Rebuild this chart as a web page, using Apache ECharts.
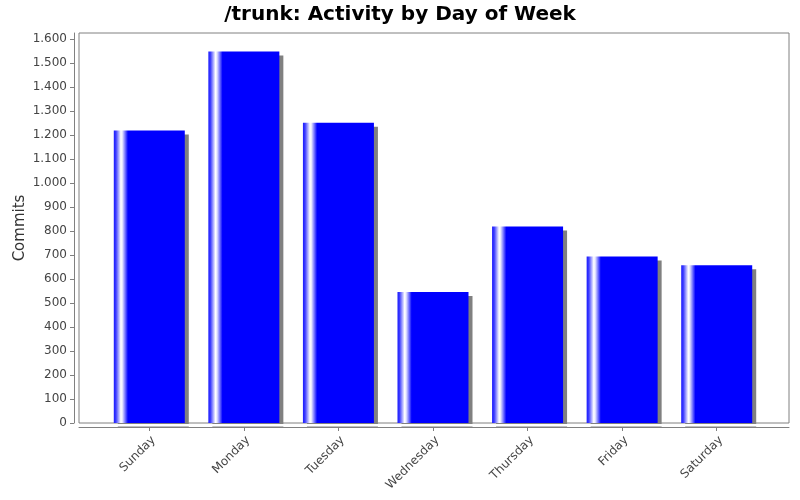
<!DOCTYPE html>
<html>
<head>
<meta charset="utf-8">
<script src="https://cdn.jsdelivr.net/npm/echarts@6/dist/echarts.min.js"></script>
<style>html,body{margin:0;padding:0;background:#fff}#c{width:800px;height:500px}</style>
</head>
<body>
<div id="c"></div>
<script>
const categories = ['Sunday', 'Monday', 'Tuesday', 'Wednesday', 'Thursday', 'Friday', 'Saturday'];
const commits = [1218, 1547, 1251, 546, 818, 693, 657];
const yTicks = [0, 100, 200, 300, 400, 500, 600, 700, 800, 900, 1000, 1100, 1200, 1300, 1400, 1500, 1600];

const FONT = 'DejaVu Sans';
const GRAY = '#808080';
const TXT = '#444444';
const yMax = Math.max.apply(null, commits) * 1.05;

const chart = echarts.init(document.getElementById('c'), null, {renderer: 'canvas'});
chart.setOption({
  animation: false,
  backgroundColor: '#ffffff',
  title: {
    text: '/trunk: Activity by Day of Week',
    left: 'center', top: 0,
    textStyle: {fontFamily: FONT, fontSize: 20, fontWeight: 'bold', color: '#000'}
  },
  grid: [
    {left: 102, right: 36, top: 33, bottom: 77, show: false},
    {left: 79, right: 11, top: 33, bottom: 77, show: true, borderColor: GRAY, borderWidth: 1, backgroundColor: '#fff'}
  ],
  xAxis: [
    {
      type: 'category', gridIndex: 0, data: categories, offset: 4,
      axisLine: {show: false, onZero: false},
      axisTick: {show: true, alignWithLabel: true, length: 4, lineStyle: {color: GRAY}},
      axisLabel: {rotate: 45, margin: 7, verticalAlign: 'top', fontFamily: FONT, fontSize: 12, color: TXT},
      splitLine: {show: false}
    },
    {
      type: 'value', gridIndex: 1, min: 0, max: 1, offset: 4,
      axisLine: {show: true, onZero: false, lineStyle: {color: GRAY, width: 1}},
      axisTick: {show: false}, axisLabel: {show: false}, splitLine: {show: false}
    }
  ],
  yAxis: [
    {
      type: 'value', gridIndex: 0, min: 0, max: yMax, offset: 28,
      name: 'Commits', nameLocation: 'middle', nameGap: 46, nameRotate: 90, nameMoveOverlap: false,
      nameTextStyle: {fontFamily: FONT, fontSize: 15, color: '#333333'},
      axisLine: {show: true, onZero: false, lineStyle: {color: GRAY, width: 1}},
      axisTick: {show: true, length: 4, lineStyle: {color: GRAY}, customValues: yTicks},
      axisLabel: {
        fontFamily: FONT, fontSize: 12, color: TXT, margin: 7, customValues: yTicks,
        formatter: v => String(v).replace(/\B(?=(\d{3})+(?!\d))/g, '.')
      },
      splitLine: {show: false}
    },
    {type: 'value', gridIndex: 1, show: false, min: 0, max: 1}
  ],
  graphic: [{
    type: 'rect', z: 50,
    shape: {x: 79.5, y: 424, width: 709, height: 2.5},
    style: {fill: '#ffffff'}
  }],
  series: [{
    type: 'bar', xAxisIndex: 0, yAxisIndex: 0, data: commits,
    barWidth: 71, z: 2,
    itemStyle: {
      color: new echarts.graphic.LinearGradient(0, 0, 1, 0, [
        {offset: 0, color: '#1a1aff'},
        {offset: 0.03, color: '#3c3cff'},
        {offset: 0.1, color: '#ffffff'},
        {offset: 0.12, color: '#e8e8ff'},
        {offset: 0.2, color: '#0000ff'},
        {offset: 1, color: '#0000ff'}
      ]),
      shadowColor: GRAY, shadowBlur: 0, shadowOffsetX: 4, shadowOffsetY: 4
    }
  }]
});
</script>
</body>
</html>
